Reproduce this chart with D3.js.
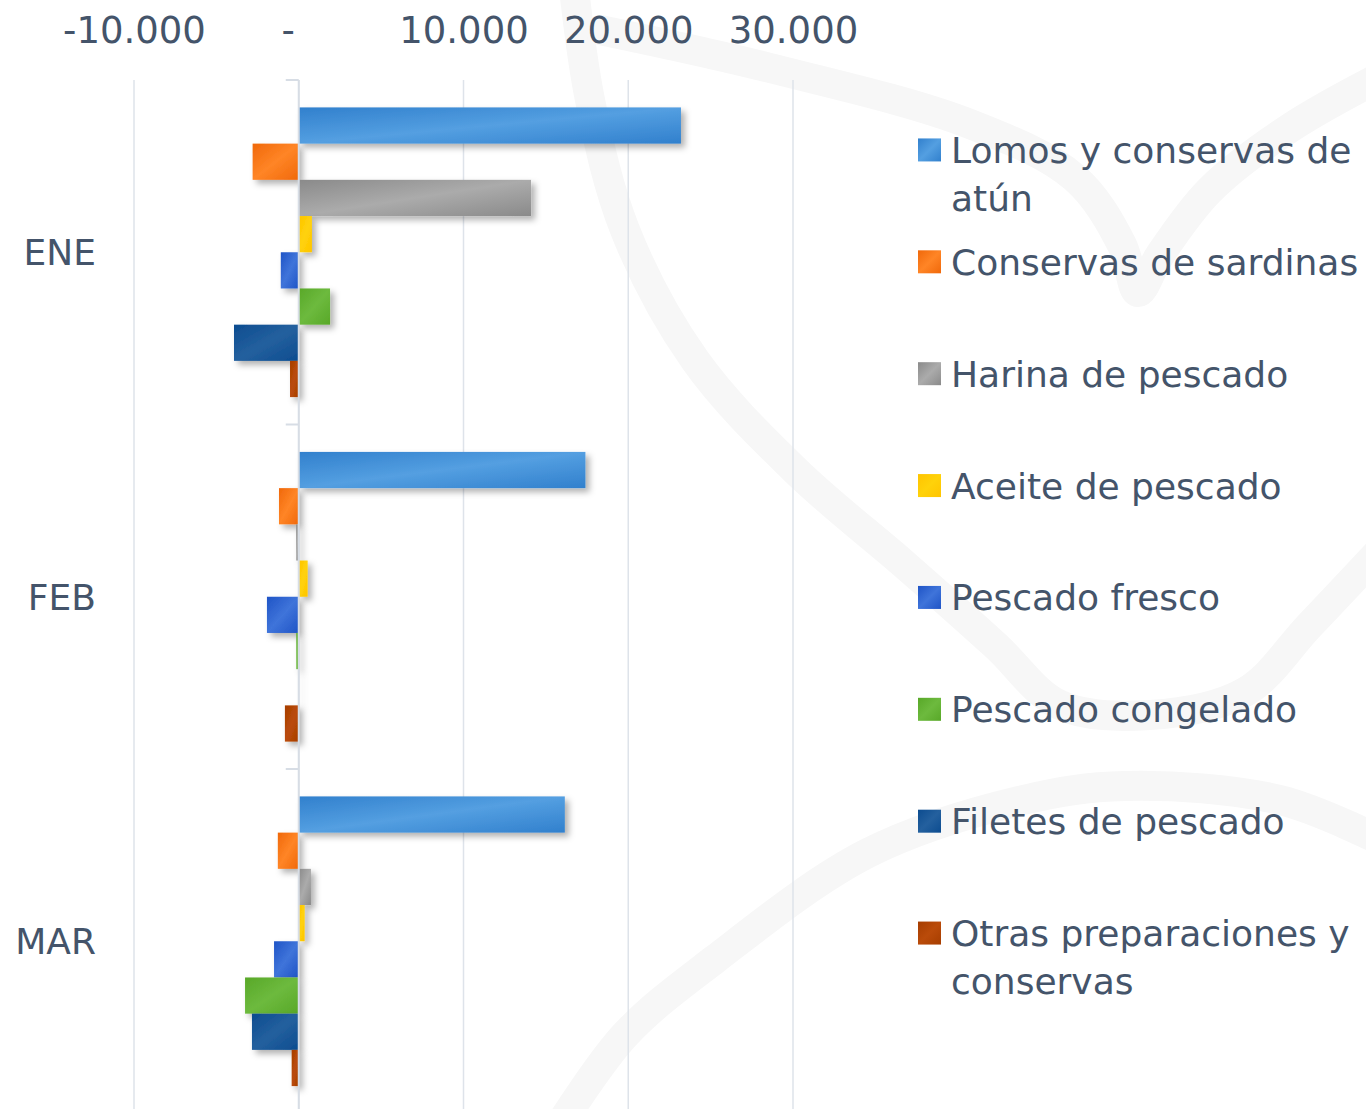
<!DOCTYPE html>
<html lang="es">
<head>
  <meta charset="UTF-8">
  <title>Exportaciones por producto</title>
  <script src="https://cdn.jsdelivr.net/npm/d3@7"></script>
  <style>
    body {
      margin: 0;
      background: #fff;
    }

    svg {
      display: block;
      font-family: "DejaVu Sans", sans-serif;
    }

    .axis-label {
      fill: #44546A;
    }
  </style>
</head>
<body>
  <div id="wrapper"></div>
  <script>
    // data
    const months = ["ENE", "FEB", "MAR"];
    const seriesNames = [
      "Lomos y conservas de atún",
      "Conservas de sardinas",
      "Harina de pescado",
      "Aceite de pescado",
      "Pescado fresco",
      "Pescado congelado",
      "Filetes de pescado",
      "Otras preparaciones y conservas"
    ];
    const lomos = [23200, 17400, 16150];
    const sardinas = [-2800, -1200, -1270];
    const harina = [14100, -160, 740];
    const aceite = [800, 540, 360];
    const fresco = [-1090, -1930, -1500];
    const congelado = [1900, -150, -3260];
    const filetes = [-3930, -30, -2840];
    const otras = [-530, -840, -430];
    const xTicks = [-10000, 0, 10000, 20000, 30000];

    const seriesValues = [lomos, sardinas, harina, aceite, fresco, congelado, filetes, otras];

    // [dark, light] for each series gradient
    const seriesColors = [
      ["#3180CD", "#549FE1"],
      ["#F0680A", "#FF8526"],
      ["#8A8A8A", "#ABABAB"],
      ["#FFC400", "#FFD20A"],
      ["#1F54C6", "#3F74DA"],
      ["#58A828", "#6DBA3E"],
      ["#0C4C90", "#24609E"],
      ["#A63D00", "#BA4B0A"]
    ];

    const rows = [];
    months.forEach((m, i) => {
      seriesNames.forEach((s, j) => {
        rows.push({ month: m, series: s, index: j, value: seriesValues[j][i] });
      });
    });

    //#region Dimensions
    const dimensions = {
      width: 1366,
      height: 1109,
      plotLeft: 134,
      plotRight: 793,
      plotTop: 80,
      plotBottom: 1113.5
    };
    //#endregion

    const svg = d3.select("#wrapper")
      .append("svg")
      .attr("width", dimensions.width)
      .attr("height", dimensions.height);

    const defs = svg.append("defs");

    seriesColors.forEach((c, i) => {
      const grad = defs.append("linearGradient")
        .attr("id", `grad-${i}`)
        .attr("x1", 0).attr("y1", 0)
        .attr("x2", 1).attr("y2", 1);
      grad.append("stop").attr("offset", "0%").attr("stop-color", c[0]);
      grad.append("stop").attr("offset", "50%").attr("stop-color", c[1]);
      grad.append("stop").attr("offset", "100%").attr("stop-color", c[0]);
    });

    const shadow = defs.append("filter")
      .attr("id", "shadow")
      .attr("filterUnits", "userSpaceOnUse")
      .attr("x", 0).attr("y", 0)
      .attr("width", dimensions.width).attr("height", dimensions.height);
    shadow.append("feDropShadow")
      .attr("dx", 4)
      .attr("dy", 4)
      .attr("stdDeviation", 3)
      .attr("flood-color", "#000")
      .attr("flood-opacity", 0.3);

    //#region Watermark (faint background logo)
    const watermark = [
      [[572, -30], [590, 100], [625, 230], [695, 360], [795, 470], [905, 565], [995, 645], [1060, 705], [1150, 715], [1245, 692], [1310, 625], [1390, 540]],
      [[600, 30], [770, 68], [970, 124], [1075, 178], [1122, 245], [1138, 292], [1160, 255], [1210, 190], [1290, 128], [1390, 72]],
      [[560, 1125], [625, 1035], [714, 960], [868, 853], [1023, 800], [1125, 786], [1280, 800], [1390, 845]]
    ];
    const wmLine = d3.line().curve(d3.curveCatmullRom);
    svg.append("g")
      .selectAll("path")
      .data(watermark)
      .join("path")
      .attr("d", d => wmLine(d))
      .attr("fill", "none")
      .attr("stroke", "#F7F7F7")
      .attr("stroke-width", 30)
      .attr("stroke-linecap", "round");
    //#endregion

    //#region Scales
    const xScale = d3.scaleLinear()
      .domain([-10000, 30000])
      .range([dimensions.plotLeft, dimensions.plotRight]);

    const yScale = d3.scaleBand()
      .domain(months)
      .range([dimensions.plotTop, dimensions.plotBottom]);

    const ySub = d3.scaleBand()
      .domain(seriesNames)
      .range([0, yScale.bandwidth()])
      .paddingInner(0)
      .paddingOuter(0.757);
    //#endregion

    //#region Gridlines
    svg.append("g")
      .selectAll("line")
      .data(xTicks)
      .join("line")
      .attr("x1", d => xScale(d))
      .attr("x2", d => xScale(d))
      .attr("y1", dimensions.plotTop)
      .attr("y2", dimensions.height)
      .attr("stroke", "#DEE3EA")
      .attr("stroke-width", 1.5);
    //#endregion

    //#region Bars
    const x0 = xScale(0);
    svg.append("g")
      .selectAll("rect")
      .data(rows)
      .join("rect")
      .attr("x", d => Math.min(xScale(d.value), x0))
      .attr("width", d => Math.abs(xScale(d.value) - x0))
      .attr("y", d => yScale(d.month) + ySub(d.series))
      .attr("height", ySub.bandwidth())
      .attr("fill", d => `url(#grad-${d.index})`)
      .attr("filter", "url(#shadow)");
    //#endregion

    //#region Axes
    const locale = d3.formatLocale({ decimal: ",", thousands: ".", grouping: [3], currency: ["", ""], minus: "-" });
    const fmt = locale.format(",");

    const xAxis = svg.append("g")
      .attr("transform", `translate(0,${dimensions.plotTop})`)
      .call(d3.axisTop(xScale)
        .tickValues(xTicks)
        .tickSize(0)
        .tickPadding(37)
        .tickFormat(d => d === 0 ? "-" : fmt(d)));
    xAxis.select(".domain").remove();
    xAxis.selectAll("text")
      .attr("class", "axis-label")
      .attr("font-family", "DejaVu Sans, sans-serif")
      .attr("font-size", 37)
      .attr("dx", d => d === 0 ? -11 : 0);

    // vertical category axis at zero
    svg.append("line")
      .attr("x1", x0)
      .attr("x2", x0)
      .attr("y1", dimensions.plotTop)
      .attr("y2", dimensions.height)
      .attr("stroke", "#D7DDE5")
      .attr("stroke-width", 2);

    const boundaries = months.map(m => yScale(m)).concat([dimensions.plotBottom]);
    svg.append("g")
      .selectAll("line")
      .data(boundaries)
      .join("line")
      .attr("x1", x0 - 13)
      .attr("x2", x0)
      .attr("y1", d => d)
      .attr("y2", d => d)
      .attr("stroke", "#D7DDE5")
      .attr("stroke-width", 2);

    const yAxis = svg.append("g")
      .attr("transform", `translate(${x0},0)`)
      .call(d3.axisLeft(yScale)
        .tickSize(0)
        .tickPadding(x0 - 96));
    yAxis.select(".domain").remove();
    yAxis.selectAll("text")
      .attr("class", "axis-label")
      .attr("font-family", "DejaVu Sans, sans-serif")
      .attr("font-size", 36)
      .attr("dy", "0.36em");
    //#endregion

    //#region Legend
    const legendScale = d3.scaleBand()
      .domain(seriesNames)
      .range([94, 989]);

    const legend = svg.append("g");
    const entries = legend.selectAll("g")
      .data(seriesNames)
      .join("g")
      .attr("transform", d => `translate(918,${legendScale(d) + legendScale.bandwidth() / 2})`);

    entries.append("rect")
      .attr("x", 0)
      .attr("y", -11.5)
      .attr("width", 23)
      .attr("height", 23)
      .attr("fill", (d, i) => `url(#grad-${i})`);

    entries.append("text")
      .attr("class", "axis-label")
      .attr("x", 33)
      .attr("y", 13)
      .attr("font-size", 36)
      .text(d => d)
      .call(wrap, 415);

    function wrap(sel, maxWidth) {
      sel.each(function () {
        const text = d3.select(this);
        const words = text.text().split(/\s+/);
        const x = text.attr("x");
        text.text(null);
        let line = [];
        let tspan = text.append("tspan").attr("x", x);
        words.forEach(w => {
          line.push(w);
          tspan.text(line.join(" "));
          if (tspan.node().getComputedTextLength() > maxWidth && line.length > 1) {
            line.pop();
            tspan.text(line.join(" "));
            line = [w];
            tspan = text.append("tspan").attr("x", x).attr("dy", 48).text(w);
          }
        });
      });
    }
    //#endregion
  </script>
</body>
</html>
